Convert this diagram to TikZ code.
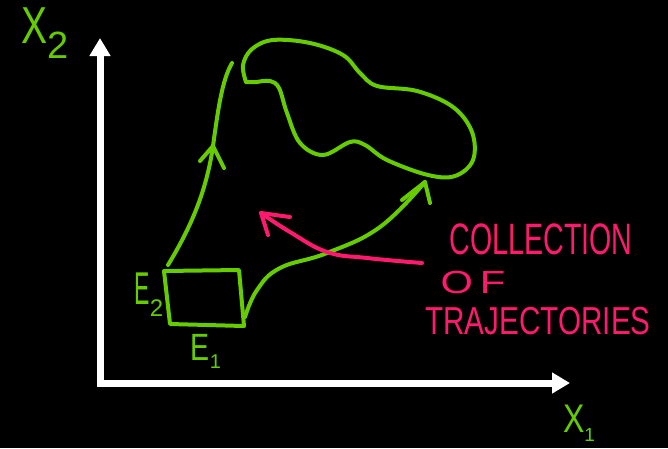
\documentclass[tikz,border=0pt]{standalone}
\usepackage{fontspec}
\setmainfont{Liberation Sans}
\usetikzlibrary{arrows.meta}
\definecolor{limec}{HTML}{66CC00}
\definecolor{pinkc}{HTML}{FF1A6E}
\begin{document}
\begin{tikzpicture}[x=1pt,y=-1pt,
  axis/.style={white,line width=7pt},
  gstroke/.style={limec,line width=4pt,line cap=round,line join=round},
  pstroke/.style={pinkc,line width=4pt,line cap=round,line join=round},
  glabel/.style={text=limec,inner sep=0pt},
  ptext/.style={text=pinkc,inner sep=0pt}]
\fill[black] (0,0) rectangle (668,448);
\useasboundingbox (0,0) rectangle (668,448);
% axes
\coordinate (O) at (100,383);
\coordinate (ytip) at (100,38);
\coordinate (xtip) at (570,383);
\draw[axis,-{Triangle[width=20pt,length=18pt]}] ([yshift=3.5pt]O) -- (ytip);
\draw[axis,-{Triangle[width=20pt,length=18pt]}] ([xshift=-3.5pt]O) -- (xtip);
% axis labels
\node[glabel] (x2) at (45,33) {\fontsize{52}{52}\selectfont\scalebox{0.75}[1]{X}\raisebox{-15pt}{\fontsize{38}{38}\selectfont 2}};
\node[glabel] (x1) at (579,423) {\fontsize{40}{40}\selectfont\scalebox{0.8}[1]{X}\raisebox{-9pt}{\fontsize{19}{19}\selectfont 1}};
% rectangle of initial states
\coordinate (r1) at (164,271);
\coordinate (r2) at (239,270);
\coordinate (r3) at (244,326);
\coordinate (r4) at (170,324);
\draw[gstroke] (r1) -- (r2) -- (r3) -- (r4) -- cycle;
\node[glabel] (e2) at (149,295) {\fontsize{46}{46}\selectfont\scalebox{0.5}[1]{E}\raisebox{-12pt}{\fontsize{24}{24}\selectfont 2}};
\node[glabel] (e1) at (206,351) {\fontsize{38}{38}\selectfont\scalebox{0.75}[1]{E}\raisebox{-8pt}{\fontsize{20}{20}\selectfont 1}};
% trajectory 1
\coordinate (t1s) at (168,265);
\coordinate (t1m) at (213,146);
\coordinate (t1e) at (232,63);
\draw[gstroke] (t1s) .. controls (188,232) and (206,195) .. (t1m) .. controls (218,110) and (222,80) .. (t1e);
\draw[gstroke] (200,161) -- (t1m) -- (224,168);
% trajectory 2
\coordinate (t2s) at (245,317);
\coordinate (t2e) at (425,182);
\draw[gstroke] plot[smooth,tension=0.7] coordinates {(245,317) (257,290) (280,268) (327,253) (380,227) (425,182)};
\draw[gstroke] (402,200) -- (t2e) -- (430,203);
% reachable set blob
\draw[gstroke] plot[smooth,tension=0.6] coordinates {(246,82) (243,65) (252,49) (273,40) (310,43) (343,55) (360,73) (377,86) (417,91) (453,107) (472,132) (473,160) (455,176) (428,175) (387,160) (365,145) (350,142) (323,155) (300,143) (287,113) (279,88) (270,81) (257,82)} -- (246,82);
% pink arrow
\coordinate (ps) at (422,263);
\coordinate (pe) at (261,213);
\draw[pstroke] plot[smooth,tension=0.7] coordinates {(422,263) (367,258) (327,252) (290,232) (261,213)};
\draw[pstroke] (290,217) -- (pe) -- (268,235);
% pink text
\node[ptext] (l1) at (541,239) {\fontsize{44}{44}\selectfont\scalebox{0.65}[1]{COLLECTION}};
\node[ptext] (l2) at (473,282) {\fontsize{32}{32}\selectfont\scalebox{1.3}[1]{O\,F}};
\node[ptext] (l3) at (538,321) {\fontsize{39}{39}\selectfont\scalebox{0.76}[1]{TRAJECTORIES}};
\end{tikzpicture}
\end{document}
